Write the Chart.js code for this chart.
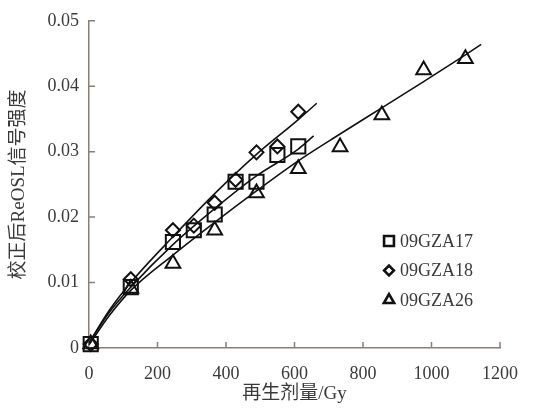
<!DOCTYPE html>
<html>
<head>
<meta charset="utf-8">
<script src="https://cdn.jsdelivr.net/npm/chart.js@4.4.1/dist/chart.umd.min.js"></script>
<style>
	body { margin: 0; background: #fff; }
	#wrap { width: 533px; height: 408px; }
</style>
</head>
<body>
<div id="wrap"><canvas id="myChart" width="533" height="408"></canvas></div>
<script>
// measured points (dose in Gy, corrected ReOSL signal)
const doseA = [5, 122, 245, 306, 367, 428, 489, 550, 611];
const gza17 = [0.0006, 0.0093, 0.0162, 0.0180, 0.0204, 0.0254, 0.0254, 0.0295, 0.0308];
const gza18 = [0.0006, 0.0105, 0.0180, 0.0187, 0.0222, 0.0257, 0.0299, 0.0308, 0.0361];
const doseB = [5, 122, 245, 367, 489, 611, 733, 855, 977, 1099];
const gza26 = [0.0006, 0.0091, 0.0129, 0.0180, 0.0237, 0.0274, 0.0307, 0.0356, 0.0425, 0.0442];

// fitted curves
const fit17x = [0, 60, 122, 245, 367, 489, 611, 656];
const fit17y = [0.0008, 0.0055, 0.0093, 0.0158, 0.0213, 0.0263, 0.0304, 0.0324];
const fit18x = [0, 60, 122, 245, 367, 489, 611, 665];
const fit18y = [0.0008, 0.0058, 0.0100, 0.0170, 0.0236, 0.0296, 0.0349, 0.0374];
const fit26x = [0, 60, 122, 245, 367, 489, 611, 733, 855, 977, 1099, 1145];
const fit26y = [0.0005, 0.0050, 0.0088, 0.0142, 0.0192, 0.0240, 0.0286, 0.0327, 0.0367, 0.0407, 0.0448, 0.0464];

const xTicks = [0, 200, 400, 600, 800, 1000, 1200];
const yTicks = [0, 0.01, 0.02, 0.03, 0.04, 0.05];
const names = ['09GZA17', '09GZA18', '09GZA26'];

const axisColor = '#8a7e77';
const textColor = '#3a3a3a';
const serif = "'Liberation Serif', 'Noto Sans CJK SC', serif";

function pts(xs, ys) {
	var out = [];
	for (var i = 0; i < xs.length; i++) {
		out.push({x: xs[i], y: ys[i]});
	}
	return out;
}

function fitLine(xs, ys) {
	return {
		data: pts(xs, ys),
		showLine: true,
		borderColor: '#111',
		borderWidth: 1.6,
		pointRadius: 0,
		cubicInterpolationMode: 'monotone',
		clip: false
	};
}

function marks(xs, ys, style, r) {
	return {
		data: pts(xs, ys),
		showLine: false,
		pointStyle: style,
		pointRadius: r,
		pointBorderWidth: 2,
		pointBorderColor: '#111',
		pointBackgroundColor: 'rgba(0,0,0,0)',
		clip: false
	};
}

const styles = [['rect', 10], ['rectRot', 7], ['triangle', 8.5]];

//inward ticks and the legend box inside the plot
const extras = {
	id: 'extras',
	afterDraw(chart) {
		var ctx = chart.ctx;
		var xs = chart.scales.x;
		var ys = chart.scales.y;
		var area = chart.chartArea;
		ctx.save();
		ctx.strokeStyle = axisColor;
		ctx.lineWidth = 1.5;
		ctx.beginPath();
		xTicks.forEach(function (v) {
			if (v == 0) return;
			var px = xs.getPixelForValue(v);
			ctx.moveTo(px, area.bottom);
			ctx.lineTo(px, area.bottom - 6);
		});
		yTicks.forEach(function (v) {
			if (v == 0) return;
			var py = ys.getPixelForValue(v);
			ctx.moveTo(area.left, py);
			ctx.lineTo(area.left + 6, py);
		});
		ctx.stroke();

		ctx.font = '18px ' + serif;
		ctx.textBaseline = 'middle';
		for (var i = 0; i < names.length; i++) {
			var y = 241 + i * 29.5;
			ctx.strokeStyle = '#111';
			ctx.fillStyle = '#fff';
			ctx.lineWidth = 2.6;
			Chart.helpers.drawPoint(ctx, {pointStyle: styles[i][0], radius: styles[i][1] * 0.7, borderWidth: 2.6}, 389, y);
			ctx.fillStyle = textColor;
			ctx.fillText(names[i], 400, y + 1);
		}
		ctx.restore();
	}
};

var ctx = document.getElementById('myChart').getContext('2d');
var chart = new Chart(ctx, {
	type: 'scatter',
	data: {
		datasets: [
			fitLine(fit17x, fit17y),
			fitLine(fit18x, fit18y),
			fitLine(fit26x, fit26y),
			marks(doseA, gza17, styles[0][0], styles[0][1]),
			marks(doseA, gza18, styles[1][0], styles[1][1]),
			marks(doseB, gza26, styles[2][0], styles[2][1])
		]
	},
	options: {
		responsive: false,
		animation: false,
		layout: { padding: { top: 14, right: 30, left: 0, bottom: 0 } },
		plugins: {
			legend: { display: false },
			tooltip: { enabled: false }
		},
		scales: {
			x: {
				type: 'linear',
				min: 0,
				max: 1200,
				afterFit: function (s) { s.height = 60; },
				afterBuildTicks: function (s) { s.ticks = xTicks.map(function (v) { return {value: v}; }); },
				grid: { display: false, drawTicks: false },
				border: { color: axisColor, width: 1.5 },
				ticks: {
					color: textColor,
					padding: 15,
					font: { family: serif, size: 18 },
					callback: function (v) { return String(v); }
				},
				title: {
					display: true,
					text: '再生剂量/Gy',
					color: textColor,
					padding: { top: 0, bottom: 3 },
					font: { family: serif, size: 19 }
				}
			},
			y: {
				min: 0,
				max: 0.05,
				afterFit: function (s) { s.width = 89; },
				afterBuildTicks: function (s) { s.ticks = yTicks.map(function (v) { return {value: v}; }); },
				grid: { display: false, drawTicks: false },
				border: { color: axisColor, width: 1.5 },
				ticks: {
					color: textColor,
					padding: 10,
					font: { family: serif, size: 18 },
					callback: function (v) { return v == 0 ? '0' : v.toFixed(2); }
				},
				title: {
					display: true,
					text: '校正后ReOSL信号强度',
					color: textColor,
					padding: { top: 8, bottom: 0 },
					font: { family: serif, size: 19 }
				}
			}
		}
	},
	plugins: [extras]
});
</script>
</body>
</html>
